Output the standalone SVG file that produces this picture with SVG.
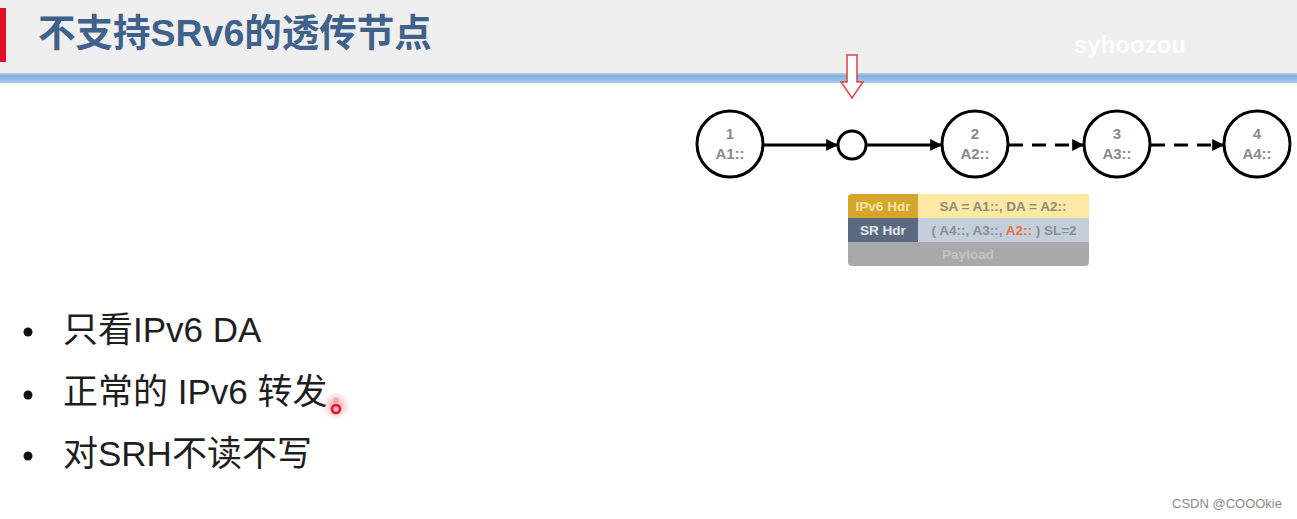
<svg xmlns="http://www.w3.org/2000/svg" width="1297" height="519" viewBox="0 0 1297 519">
<defs>
<style>
.node{fill:#fff;stroke:#000;stroke-width:3}
.nl{font-family:"Liberation Sans",Arial,sans-serif;font-weight:bold;font-size:15px;fill:#8a8a8a;text-anchor:middle}
.ln{stroke:#000;stroke-width:3;fill:none}
.dash{stroke-dasharray:14 9}
.bul{font-family:"Liberation Sans","Noto Sans CJK SC",sans-serif;font-size:35px;fill:#1e1e1e}
.pk{font-family:"Liberation Sans",Arial,sans-serif;font-size:13.5px;font-weight:bold}
</style>
<marker id="ah" viewBox="0 0 10 10" refX="9" refY="5" markerWidth="4" markerHeight="4" orient="auto" markerUnits="strokeWidth">
<path d="M0,0 L10,5 L0,10 z" fill="#000"/>
</marker>
<linearGradient id="bar" x1="0" y1="0" x2="0" y2="1">
<stop offset="0" stop-color="#b9cfe6"/>
<stop offset="0.3" stop-color="#7fb0df"/>
<stop offset="1" stop-color="#a9cbed"/>
</linearGradient>
<radialGradient id="glow">
<stop offset="0" stop-color="#ff4040" stop-opacity="0.5"/>
<stop offset="1" stop-color="#ff4040" stop-opacity="0"/>
</radialGradient>
</defs>
<rect width="1297" height="519" fill="#fff"/>
<g id="header">
<rect x="0" y="0" width="1297" height="73" fill="#efefef"/>
<rect x="0" y="73" width="1297" height="10" fill="url(#bar)"/>
<rect x="0" y="8" width="6" height="54" fill="#e0102a"/>
<text x="38" y="46" font-family="'Liberation Sans','Noto Sans CJK SC',sans-serif" font-weight="bold" font-size="37.5" fill="#3f628c">不支持SRv6的透传节点</text>
<text x="1074" y="53" font-family="'Liberation Sans',sans-serif" font-weight="bold" font-size="24" fill="#ffffff" opacity="0.9">syhoozou</text>
</g>
<g id="pointer">
<path d="M847,55 L857,55 L857,82 L863,82 L852,98 L841,82 L847,82 Z" fill="#fff" stroke="#e04040" stroke-width="1.5"/>
</g>
<g id="connectors">
<line class="ln" x1="764" y1="145" x2="837" y2="145" marker-end="url(#ah)"/>
<line class="ln" x1="867" y1="145" x2="941" y2="145" marker-end="url(#ah)"/>
<line class="ln dash" x1="1009" y1="145" x2="1083" y2="145" marker-end="url(#ah)"/>
<line class="ln dash" x1="1151" y1="145" x2="1223" y2="145" marker-end="url(#ah)"/>
</g>
<g id="n1"><circle class="node" cx="730" cy="144" r="33"/><text class="nl" x="730" y="139">1</text><text class="nl" x="730" y="159">A1::</text></g>
<g id="nt"><circle class="node" cx="852" cy="145" r="14"/></g>
<g id="n2"><circle class="node" cx="975" cy="144" r="33"/><text class="nl" x="975" y="139">2</text><text class="nl" x="975" y="159">A2::</text></g>
<g id="n3"><circle class="node" cx="1117" cy="144" r="33"/><text class="nl" x="1117" y="139">3</text><text class="nl" x="1117" y="159">A3::</text></g>
<g id="n4"><circle class="node" cx="1257" cy="144" r="33"/><text class="nl" x="1257" y="139">4</text><text class="nl" x="1257" y="159">A4::</text></g>
<g id="packet">
<rect x="848" y="194" width="241" height="72" rx="4" fill="#a9a9a9"/>
<path d="M852,194 H918 V218 H848 V198 A4,4 0 0 1 852,194 Z" fill="#d4a62c"/>
<path d="M918,194 H1085 A4,4 0 0 1 1089,198 V218 H918 Z" fill="#fde8a4"/>
<rect x="848" y="218" width="70" height="24" fill="#5b6a80"/>
<rect x="918" y="218" width="171" height="24" fill="#c5cedb"/>
<text class="pk" x="883" y="211" text-anchor="middle" fill="#f6e2a8">IPv6 Hdr</text>
<text class="pk" x="1003" y="211" text-anchor="middle" fill="#8f8a78">SA = A1::, DA = A2::</text>
<text class="pk" x="883" y="235" text-anchor="middle" fill="#e2e6ee">SR Hdr</text>
<text class="pk" x="1004" y="235" text-anchor="middle" fill="#8a8f99">( A4::, A3::, <tspan fill="#e8743a">A2::</tspan> ) SL=2</text>
<text class="pk" x="968" y="259" text-anchor="middle" fill="#c4c4c4">Payload</text>
</g>
<g id="bullets">
<circle cx="28" cy="332" r="4.5" fill="#111"/>
<circle cx="28" cy="395" r="4.5" fill="#111"/>
<circle cx="28" cy="456" r="4.5" fill="#111"/>
<text class="bul" x="63" y="342">只看IPv6 DA</text>
<text class="bul" x="63" y="404">正常的 IPv6 转发</text>
<text class="bul" x="63" y="466">对SRH不读不写</text>
</g>
<g id="cursor">
<circle cx="336" cy="406" r="14" fill="url(#glow)"/>
<circle cx="336" cy="409" r="4" fill="none" stroke="#e8102a" stroke-width="2.5"/>
<circle cx="336" cy="400" r="2" fill="none" stroke="#f08080" stroke-width="1"/>
</g>
<text x="1282" y="508" text-anchor="end" font-family="'Liberation Sans',sans-serif" font-size="13" fill="#8a8a8a">CSDN @COOOkie</text>
</svg>
